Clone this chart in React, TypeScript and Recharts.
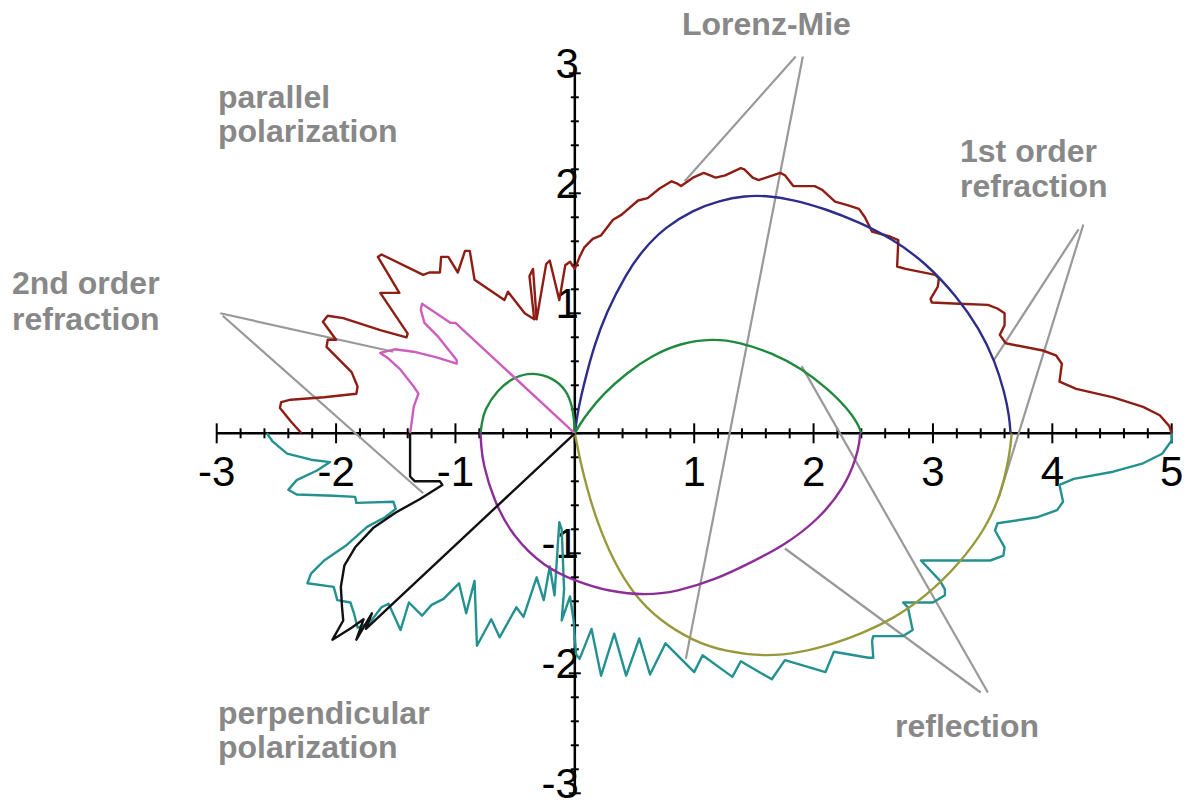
import React from 'react';
import { ScatterChart, Scatter, XAxis, YAxis, ReferenceLine } from 'recharts';

type Pt = [number, number];

// Lorenz-Mie, parallel polarization (upper wobbly curve)
const lorenzMiePar: Pt[] = [
  [-2.29, 0], [-2.38, 0.1], [-2.47, 0.21], [-2.46, 0.26], [-2.38, 0.28], [-2.1, 0.3], [-1.83, 0.33],
  [-1.82, 0.39], [-1.87, 0.51], [-2.08, 0.72], [-2.07, 0.78], [-2.0, 0.78], [-2.11, 0.93], [-2.07, 0.98],
  [-1.94, 0.96], [-1.63, 0.86], [-1.41, 0.8], [-1.4, 0.83], [-1.63, 1.17], [-1.47, 1.17], [-1.65, 1.47],
  [-1.62, 1.49], [-1.27, 1.32], [-1.22, 1.34], [-1.13, 1.34], [-1.12, 1.47], [-1.06, 1.47], [-0.98, 1.34],
  [-0.92, 1.52], [-0.88, 1.52], [-0.84, 1.28], [-0.59, 1.11], [-0.56, 1.18], [-0.42, 1.0], [-0.34, 0.95],
  [-0.38, 1.31], [-0.35, 1.37], [-0.32, 0.95], [-0.24, 1.41], [-0.21, 1.44], [-0.13, 1.11], [-0.08, 1.4],
  [-0.04, 1.43], [0, 1.37], [0.04, 1.47], [0.08, 1.55], [0.15, 1.62], [0.22, 1.65], [0.32, 1.78],
  [0.39, 1.82], [0.53, 1.94], [0.61, 1.96], [0.71, 2.04], [0.81, 2.1], [0.86, 2.08], [0.89, 2.06],
  [0.99, 2.13], [1.08, 2.17], [1.18, 2.13], [1.26, 2.15], [1.39, 2.21], [1.42, 2.2], [1.49, 2.13],
  [1.54, 2.11], [1.72, 2.17], [1.76, 2.15], [1.83, 2.06], [1.9, 2.06], [2.01, 2.06], [2.07, 2.03],
  [2.18, 1.93], [2.29, 1.9], [2.38, 1.87], [2.43, 1.8], [2.49, 1.68], [2.64, 1.64], [2.71, 1.61],
  [2.7, 1.39], [2.77, 1.37], [3.02, 1.32], [3.05, 1.29], [3.04, 1.22], [2.98, 1.12], [2.99, 1.09],
  [3.22, 1.08], [3.46, 1.07], [3.54, 1.04], [3.6, 1.0], [3.6, 0.9], [3.56, 0.82], [3.61, 0.75],
  [3.92, 0.69], [4.03, 0.65], [4.08, 0.58], [4.06, 0.43], [4.2, 0.37], [4.51, 0.3], [4.76, 0.22],
  [4.9, 0.15], [4.98, 0.06], [5, 0],
];

// Lorenz-Mie, perpendicular polarization (lower wobbly curve)
const lorenzMiePerp: Pt[] = [
  [-2.58, 0], [-2.53, -0.07], [-2.41, -0.17], [-2.21, -0.22], [-2.05, -0.24], [-2.16, -0.31],
  [-2.33, -0.39], [-2.4, -0.47], [-2.33, -0.51], [-2.02, -0.52], [-1.84, -0.53], [-1.83, -0.58],
  [-1.52, -0.57], [-1.5, -0.63], [-1.59, -0.7], [-1.74, -0.78], [-1.91, -0.93], [-2.1, -1.06],
  [-2.21, -1.17], [-2.24, -1.25], [-2.02, -1.28], [-1.99, -1.39], [-1.88, -1.41], [-1.85, -1.5],
  [-1.82, -1.62], [-1.72, -1.58], [-1.62, -1.45], [-1.56, -1.42], [-1.46, -1.64], [-1.39, -1.41],
  [-1.28, -1.52], [-1.2, -1.43], [-1.1, -1.38], [-0.97, -1.25], [-0.91, -1.5], [-0.84, -1.23],
  [-0.82, -1.77], [-0.7, -1.55], [-0.63, -1.7], [-0.49, -1.45], [-0.43, -1.53], [-0.32, -1.2],
  [-0.26, -1.39], [-0.21, -1.11], [-0.17, -1.35], [-0.13, -0.74], [-0.11, -0.8], [-0.09, -1.3],
  [-0.11, -1.56], [-0.04, -1.36], [-0.01, -1.56], [0.01, -1.84], [0.04, -1.88], [0.14, -1.63],
  [0.22, -2.02], [0.33, -1.67], [0.43, -2.02], [0.54, -1.71], [0.63, -2.01], [0.76, -1.75],
  [1.0, -1.99], [1.07, -1.85], [1.32, -2.03], [1.39, -1.9], [1.65, -2.05], [1.76, -1.89],
  [2.1, -1.99], [2.17, -1.82], [2.46, -1.87], [2.5, -1.87], [2.49, -1.73], [2.5, -1.69],
  [2.75, -1.69], [2.83, -1.64], [2.79, -1.45], [2.75, -1.41], [3.0, -1.41], [3.1, -1.35],
  [3.1, -1.3], [3.06, -1.23], [2.9, -1.06], [3.22, -1.06], [3.48, -1.06], [3.59, -1.02],
  [3.6, -0.95], [3.52, -0.81], [3.54, -0.75], [3.87, -0.7], [4.04, -0.64], [4.09, -0.57],
  [4.06, -0.43], [4.18, -0.38], [4.51, -0.32], [4.76, -0.25], [4.92, -0.17], [5, -0.06], [5, 0],
];

// 1st order refraction
const refr1Par: Pt[] = [
  [0, 0], [0.02, 0.15], [0.05, 0.3], [0.1, 0.5], [0.16, 0.72], [0.26, 1.0], [0.43, 1.33], [0.57, 1.53],
  [0.76, 1.72], [0.99, 1.86], [1.21, 1.94], [1.43, 1.98], [1.6, 1.98], [1.82, 1.95], [2.1, 1.87],
  [2.38, 1.76], [2.66, 1.62], [2.94, 1.42], [3.2, 1.14], [3.39, 0.87], [3.52, 0.6], [3.6, 0.34],
  [3.64, 0.14], [3.65, 0],
];
const refr1Perp: Pt[] = [
  [0, 0], [0.02, -0.1], [0.05, -0.25], [0.1, -0.45], [0.18, -0.72], [0.32, -1.06], [0.49, -1.34],
  [0.71, -1.56], [0.99, -1.73], [1.26, -1.82], [1.6, -1.86], [1.88, -1.83], [2.18, -1.75], [2.4, -1.67],
  [2.66, -1.55], [2.94, -1.36], [3.22, -1.09], [3.45, -0.78], [3.57, -0.5], [3.63, -0.24],
  [3.65, -0.1], [3.66, 0],
];

// reflection
const reflParLeft: Pt[] = [
  [-0.79, 0], [-0.78, 0.08], [-0.76, 0.19], [-0.65, 0.36], [-0.51, 0.47], [-0.35, 0.51], [-0.18, 0.46],
  [-0.07, 0.36], [-0.02, 0.22], [-0.005, 0.1], [0, 0],
];
const reflParRight: Pt[] = [
  [0, 0], [0.04, 0.07], [0.1, 0.16], [0.24, 0.33], [0.43, 0.5], [0.65, 0.65], [0.88, 0.75],
  [1.15, 0.79], [1.38, 0.76], [1.65, 0.67], [1.9, 0.54], [2.12, 0.37], [2.29, 0.2], [2.37, 0.08],
  [2.39, 0.03], [2.4, 0],
];
const reflPerp: Pt[] = [
  [-0.79, 0], [-0.785, -0.1], [-0.77, -0.25], [-0.68, -0.56], [-0.52, -0.86], [-0.26, -1.11], [0, -1.23],
  [0.29, -1.32], [0.6, -1.35], [0.85, -1.32], [1.18, -1.22], [1.49, -1.07], [1.76, -0.93],
  [2.04, -0.72], [2.26, -0.45], [2.36, -0.2], [2.385, -0.07], [2.39, 0],
];

// 2nd order refraction
const refr2Par: Pt[] = [
  [-1.38, 0], [-1.36, 0.14], [-1.35, 0.22], [-1.31, 0.33], [-1.35, 0.39], [-1.46, 0.53],
  [-1.57, 0.63], [-1.63, 0.67], [-1.51, 0.7], [-1.35, 0.68], [-1.15, 0.63], [-0.99, 0.58],
  [-0.99, 0.61], [-1.15, 0.81], [-1.26, 0.92], [-1.29, 1.03], [-1.28, 1.08], [-1.04, 0.92],
  [-1.0, 0.92], [0, 0],
];
const refr2Perp: Pt[] = [
  [-1.38, 0], [-1.38, -0.36], [-1.34, -0.4], [-1.13, -0.4], [-1.11, -0.43], [-1.3, -0.55],
  [-1.5, -0.66], [-1.69, -0.79], [-1.84, -0.95], [-1.93, -1.1], [-1.96, -1.28], [-1.95, -1.45],
  [-1.94, -1.56], [-2.03, -1.72], [-1.87, -1.62], [-1.77, -1.55], [-1.83, -1.72], [-1.7, -1.5],
  [-1.75, -1.63], [0, 0],
];

// annotation pointers
const pointers: Pt[][] = [
  [[1.85, 3.14], [0.92, 2.1]],
  [[1.91, 3.14], [0.93, -1.88]],
  [[4.22, 1.7], [3.51, 0.61]],
  [[4.26, 1.74], [3.55, -0.54]],
  [[-2.97, 1.0], [-1.52, 0.68]],
  [[-2.95, 0.98], [-1.27, -0.5]],
  [[3.4, -2.16], [1.76, -0.96]],
  [[3.46, -2.16], [1.9, 0.56]],
];

const xTickLabels = [-3, -2, -1, 1, 2, 3, 4, 5];
const yTickLabels = [-3, -2, -1, 1, 2, 3];

const FONT = '"Liberation Sans", Arial, Helvetica, sans-serif';

const toXY = (pts: Pt[]) => pts.map(([x, y]) => ({ x, y }));

const makeTicks = (lo: number, hi: number, majors: number[], axis: 'x' | 'y') => {
  const out: { x: number; y: number; major: boolean; label: string }[] = [];
  for (let i = Math.round(lo * 5); i <= Math.round(hi * 5); i++) {
    const v = i / 5;
    const major = i % 5 === 0;
    const label = majors.includes(v) ? String(v) : '';
    out.push(axis === 'x' ? { x: v, y: 0, major, label } : { x: 0, y: v, major, label });
  }
  return out;
};

const xTicks = makeTicks(-3, 5, xTickLabels, 'x');
const yTicks = makeTicks(-3, 3, yTickLabels, 'y');

const NoDot = () => <g />;

const XTick = (props: any) => {
  const { cx, cy, payload } = props;
  const len = payload.major ? 10 : 5;
  return (
    <g>
      <line x1={cx} x2={cx} y1={cy - len} y2={cy + len} stroke="#000" strokeWidth={2} />
      {payload.label && (
        <text x={cx} y={cy + 53} textAnchor="middle" fontSize={42} fontFamily={FONT} fill="#000">
          {payload.label}
        </text>
      )}
    </g>
  );
};

const YTick = (props: any) => {
  const { cx, cy, payload } = props;
  const len = payload.major ? 6 : 4;
  return (
    <g>
      <line x1={cx - len} x2={cx + len} y1={cy} y2={cy} stroke="#000" strokeWidth={2} />
      {payload.label && (
        <text x={cx + 4} y={cy + 5} textAnchor="end" fontSize={42} fontFamily={FONT} fill="#000">
          {payload.label}
        </text>
      )}
    </g>
  );
};

const curves: { data: Pt[]; color: string; smooth: boolean }[] = [
  { data: lorenzMiePar, color: '#8e1d14', smooth: false },
  { data: lorenzMiePerp, color: '#23918f', smooth: false },
  { data: refr1Par, color: '#2d2d8a', smooth: true },
  { data: refr1Perp, color: '#98993c', smooth: true },
  { data: reflParLeft, color: '#1f8a3d', smooth: true },
  { data: reflParRight, color: '#1f8a3d', smooth: true },
  { data: reflPerp, color: '#8d2d98', smooth: true },
  { data: refr2Par, color: '#cc5fbe', smooth: false },
  { data: refr2Perp, color: '#111111', smooth: false },
];

const labels: { text: string; x: number; y: number }[] = [
  { text: 'Lorenz-Mie', x: 682, y: 35 },
  { text: 'parallel', x: 218, y: 108 },
  { text: 'polarization', x: 218, y: 142 },
  { text: '1st order', x: 960, y: 162 },
  { text: 'refraction', x: 960, y: 197 },
  { text: '2nd order', x: 12, y: 294 },
  { text: 'refraction', x: 12, y: 330 },
  { text: 'perpendicular', x: 218, y: 724 },
  { text: 'polarization', x: 218, y: 758 },
  { text: 'reflection', x: 895, y: 737 },
];

export default function App() {
  return (
    <div style={{ position: 'absolute', left: 0, top: 0, width: 1191, height: 803, background: '#fff' }}>
      <ScatterChart
        width={1191}
        height={803}
        margin={{ top: 49.3, right: 19.3, bottom: 9.7, left: 216.7 }}
        style={{ overflow: 'visible' }}
      >
        <XAxis type="number" dataKey="x" domain={[-3, 5]} hide />
        <YAxis type="number" dataKey="y" domain={[-3, 3.2]} hide />
        <ReferenceLine segment={[{ x: -3, y: 0 }, { x: 5, y: 0 }]} stroke="#000" strokeWidth={2.5} ifOverflow="visible" />
        <ReferenceLine segment={[{ x: 0, y: -3 }, { x: 0, y: 3 }]} stroke="#000" strokeWidth={2.5} ifOverflow="visible" />
        <Scatter data={xTicks} shape={XTick} isAnimationActive={false} />
        <Scatter data={yTicks} shape={YTick} isAnimationActive={false} />
        {pointers.map((p, i) => (
          <Scatter
            key={'p' + i}
            data={toXY(p)}
            shape={NoDot}
            line={{ stroke: '#999', strokeWidth: 2.2 }}
            isAnimationActive={false}
          />
        ))}
        {curves.map((c, i) => (
          <Scatter
            key={'c' + i}
            data={toXY(c.data)}
            shape={NoDot}
            line={{ stroke: c.color, strokeWidth: 2.4, strokeLinejoin: 'round' }}
            lineJointType={c.smooth ? 'basis' : 'linear'}
            isAnimationActive={false}
          />
        ))}
      </ScatterChart>
      <svg width={1191} height={803} style={{ position: 'absolute', left: 0, top: 0, pointerEvents: 'none' }}>
        {labels.map((l, i) => (
          <text key={i} x={l.x} y={l.y} fontSize={32} fontWeight="bold" fontFamily={FONT} fill="#888">
            {l.text}
          </text>
        ))}
      </svg>
    </div>
  );
}
